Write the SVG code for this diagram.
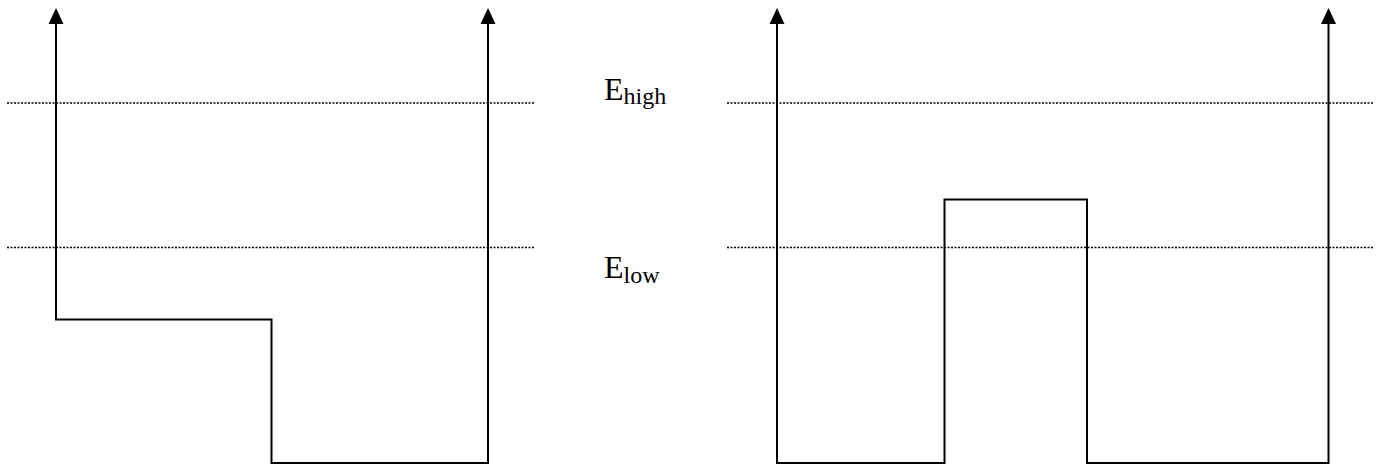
<svg xmlns="http://www.w3.org/2000/svg" width="1380" height="465" viewBox="0 0 1380 465">
<style>
.dot{stroke:#000;stroke-width:1.5;stroke-dasharray:2 1.5;fill:none}
.ln{stroke:#000;stroke-width:2;fill:none}
.lbl{fill:#000;font-family:"Liberation Serif","Times New Roman",Times,"Nimbus Roman","Tinos",serif}
</style>
<rect width="1380" height="465" fill="#fff"/>
<g id="levels">
<line class="dot" x1="7" y1="103" x2="534" y2="103"/>
<line class="dot" x1="727" y1="103" x2="1373" y2="103"/>
<line class="dot" x1="7" y1="247.5" x2="534" y2="247.5"/>
<line class="dot" x1="727" y1="247.5" x2="1373" y2="247.5"/>
</g>
<g id="well-left">
<path class="ln" d="M56,24 L56,319.5 L271.5,319.5 L271.5,463 L488,463 L488,24"/>
<path d="M48.5,24 L56,8 L63.5,24 Z" fill="#000"/>
<path d="M480.5,24 L488,8 L495.5,24 Z" fill="#000"/>
</g>
<g id="well-right">
<path class="ln" d="M777,24 L777,463 L944.5,463 L944.5,199.5 L1087,199.5 L1087,463 L1328.5,463 L1328.5,24"/>
<path d="M769.5,24 L777,8 L784.5,24 Z" fill="#000"/>
<path d="M1321,24 L1328.5,8 L1336,24 Z" fill="#000"/>
</g>
<g id="label-high">
<text class="lbl" x="604" y="99.5" font-size="32">E<tspan font-size="24" dy="4">high</tspan></text>
</g>
<g id="label-low">
<text class="lbl" x="604" y="277.5" font-size="32">E<tspan font-size="24" dy="5">low</tspan></text>
</g>
</svg>
